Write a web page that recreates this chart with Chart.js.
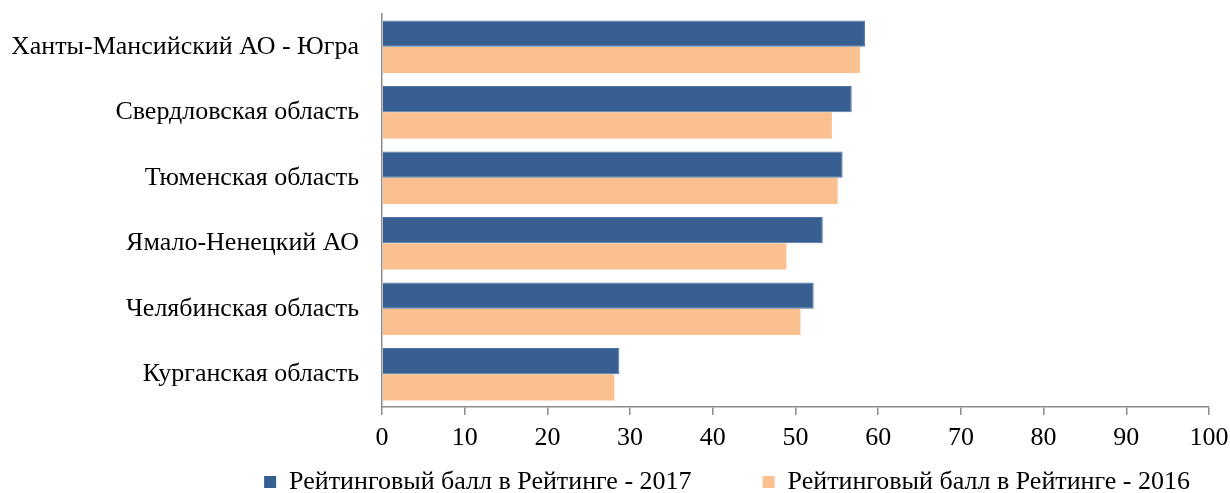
<!DOCTYPE html>
<html>
<head>
<meta charset="utf-8">
<script src="https://cdn.jsdelivr.net/npm/chart.js@4/dist/chart.umd.min.js"></script>
<style>
  html, body { margin: 0; padding: 0; background: #fff; }
  #wrap { width: 1230px; height: 493px; }
</style>
</head>
<body>
<div id="wrap"><canvas id="chart"></canvas></div>
<script>
const regions = [
    "Ханты-Мансийский АО - Югра",
    "Свердловская область",
    "Тюменская область",
    "Ямало-Ненецкий АО",
    "Челябинская область",
    "Курганская область"
];
const score2017 = [58.4, 56.8, 55.7, 53.3, 52.2, 28.7];
const score2016 = [57.8, 54.4, 55.1, 48.9, 50.6, 28.1];
const label2017 = "Рейтинговый балл в Рейтинге - 2017";
const label2016 = "Рейтинговый балл в Рейтинге - 2016";

const axisGray = "#8c8c8c";
Chart.defaults.font.family = "'Liberation Serif', 'Times New Roman', serif";
Chart.defaults.color = "#000";

var ctx = document.getElementById("chart").getContext("2d");
var chart = new Chart(ctx, {
    type: "bar",
    data: {
        labels: regions,
        datasets: [
            {
                label: label2017,
                data: score2017,
                backgroundColor: "#375f91",
                borderColor: "#4f74a3",
                borderWidth: 1,
            },
            {
                label: label2016,
                data: score2016,
                backgroundColor: "#fac090",
                borderWidth: 0,
            },
        ],
    },
    options: {
        indexAxis: "y",
        responsive: true,
        maintainAspectRatio: false,
        animation: false,
        datasets: {
            bar: { categoryPercentage: 0.8, barPercentage: 1.0 }
        },
        // negative bottom padding pushes the legend down toward the edge
        layout: { padding: { top: 14, left: 12, right: 21, bottom: -12 } },
        scales: {
            x: {
                min: 0,
                max: 100,
                ticks: { stepSize: 10, font: { size: 26 }, padding: 8 },
                grid: { drawOnChartArea: false, drawTicks: true, tickLength: 8, color: axisGray, lineWidth: 1.5 },
                border: { display: true, color: axisGray, width: 1.5 },
                afterFit: function (s) {
                    s.height = 43;
                    s.paddingRight = 21;
                },
            },
            y: {
                ticks: { font: { size: 26 }, padding: 23 },
                grid: { drawOnChartArea: false, drawTicks: false },
                border: { display: true, color: axisGray, width: 1.5 },
                afterFit: function (s) {
                    s.width = 370;
                    s.paddingTop = 0;
                    s.paddingBottom = 0;
                },
            },
        },
        plugins: {
            tooltip: { enabled: false },
            legend: {
                position: "bottom",
                align: "end",
                labels: {
                    font: { size: 26 },
                    boxWidth: 12,
                    boxHeight: 12,
                    padding: 19,
                    generateLabels: function (c) {
                        const items = Chart.defaults.plugins.legend.labels.generateLabels(c);
                        items[0].text = items[0].text + "\u2003\u2003";
                        items.forEach(it => { it.lineWidth = 0; });
                        return items;
                    },
                },
            },
        },
    },
});
</script>
</body>
</html>
